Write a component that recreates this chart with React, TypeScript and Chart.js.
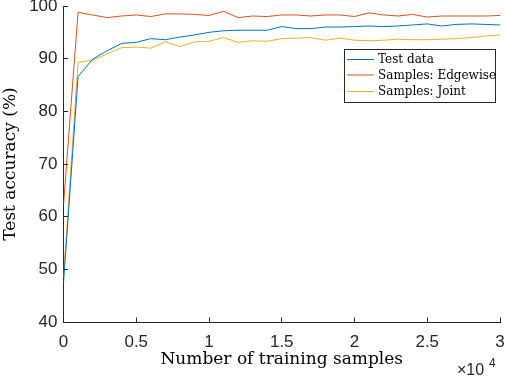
import React, { useEffect, useRef } from "react";
import { Chart, registerables } from "chart.js";

Chart.register(...registerables);

const samples = [
  0, 1000, 2000, 3000, 4000, 5000, 6000, 7000, 8000, 9000, 10000, 11000, 12000, 13000, 14000, 15000,
  16000, 17000, 18000, 19000, 20000, 21000, 22000, 23000, 24000, 25000, 26000, 27000, 28000, 29000, 30000,
];
const testData = [
  47.4, 86.6, 89.9, 91.5, 92.9, 93.1, 93.8, 93.6, 94.1, 94.5, 95.0, 95.3, 95.4, 95.4, 95.4, 96.1,
  95.7, 95.7, 96.0, 96.0, 96.1, 96.2, 96.1, 96.2, 96.4, 96.6, 96.2, 96.5, 96.6, 96.5, 96.4,
];
const edgewise = [
  62.2, 98.8, 98.3, 97.8, 98.1, 98.3, 98.0, 98.5, 98.5, 98.4, 98.2, 99.0, 97.8, 98.1, 98.0, 98.3,
  98.3, 98.1, 98.3, 98.3, 98.0, 98.7, 98.3, 98.1, 98.4, 97.9, 98.1, 98.1, 98.1, 98.1, 98.2,
];
const joint = [
  48.5, 89.3, 89.7, 90.9, 92.1, 92.2, 92.0, 93.2, 92.3, 93.2, 93.3, 94.0, 93.1, 93.4, 93.3, 93.8,
  93.9, 94.0, 93.5, 93.9, 93.5, 93.4, 93.5, 93.7, 93.6, 93.6, 93.7, 93.8, 94.0, 94.3, 94.5,
];
const seriesLabels = ["Test data", "Samples: Edgewise", "Samples: Joint"];
const seriesColors = ["#0072BD", "#D95319", "#EDB120"];
const xTicks = [0, 5000, 10000, 15000, 20000, 25000, 30000];
const xTickLabels = ["0", "0.5", "1", "1.5", "2", "2.5", "3"];
const yTicks = [40, 50, 60, 70, 80, 90, 100];

const AXIS = "#262626";
const SERIF = "'DejaVu Serif', 'Liberation Serif', serif";
const SANS = "'Liberation Sans', Arial, sans-serif";

const decorPlugin = {
  id: "decor",
  afterDraw(chart: any) {
    const ctx = chart.ctx;
    const xs = chart.scales.x;
    const ys = chart.scales.y;
    const area = chart.chartArea;
    ctx.save();
    // inward ticks
    ctx.strokeStyle = AXIS;
    ctx.lineWidth = 1;
    ctx.beginPath();
    yTicks.forEach((v) => {
      const y = Math.round(ys.getPixelForValue(v) - 0.5) + 0.5;
      ctx.moveTo(area.left, y);
      ctx.lineTo(area.left + 4.5, y);
    });
    xTicks.forEach((v) => {
      const x = Math.round(xs.getPixelForValue(v) - 0.5) + 0.5;
      ctx.moveTo(x, area.bottom);
      ctx.lineTo(x, area.bottom - 4.5);
    });
    ctx.stroke();

    // exponent label
    ctx.fillStyle = AXIS;
    ctx.textBaseline = "alphabetic";
    ctx.textAlign = "left";
    ctx.font = `16px ${SANS}`;
    ctx.fillText("\u00d710", 457, 375);
    ctx.font = `12px ${SANS}`;
    ctx.fillText("4", 489, 367);

    // legend
    const lx = 344.5, ly = 49.5, lw = 151, lh = 53;
    ctx.fillStyle = "#ffffff";
    ctx.fillRect(lx, ly, lw, lh);
    ctx.strokeStyle = AXIS;
    ctx.lineWidth = 1;
    ctx.strokeRect(lx, ly, lw, lh);
    const rows = [59.5, 75, 91.5];
    chart.data.datasets.forEach((ds: any, i: number) => {
      ctx.strokeStyle = ds.borderColor;
      ctx.lineWidth = 1;
      ctx.beginPath();
      ctx.moveTo(347, rows[i]);
      ctx.lineTo(374, rows[i]);
      ctx.stroke();
      ctx.fillStyle = "#000";
      ctx.font = `12px ${SERIF}`;
      ctx.textBaseline = "middle";
      ctx.fillText(ds.label, 378, rows[i] + 0.5);
    });
    ctx.restore();
  },
};

export default function App() {
  const canvasRef = useRef<HTMLCanvasElement | null>(null);

  useEffect(() => {
    if (!canvasRef.current) return;
    const chart = new Chart(canvasRef.current, {
      type: "line",
      data: {
        labels: samples,
        datasets: [testData, edgewise, joint].map((arr, i) => ({
          label: seriesLabels[i],
          data: arr.map((v, j) => ({ x: samples[j], y: v })),
          borderColor: seriesColors[i],
          backgroundColor: seriesColors[i],
          borderWidth: 1,
          pointRadius: 0,
          tension: 0,
          fill: false,
        })),
      },
      options: {
        responsive: false,
        animation: false,
        layout: { padding: { left: 0, right: 6, top: 6, bottom: 0 } },
        plugins: { legend: { display: false }, tooltip: { enabled: false } },
        scales: {
          x: {
            type: "linear",
            min: 0,
            max: 30000,
            afterBuildTicks: (s: any) => {
              s.ticks = xTicks.map((v) => ({ value: v }));
            },
            afterFit: (s: any) => {
              s.height = 54;
              s.paddingLeft = 0;
              s.paddingRight = 0;
            },
            grid: { display: true, drawOnChartArea: false, drawTicks: false },
            border: { display: true, color: AXIS, width: 1 },
            ticks: {
              padding: 10,
              color: AXIS,
              maxRotation: 0,
              autoSkip: false,
              font: { family: SANS, size: 17 },
              callback: (v: any) => {
                const idx = xTicks.indexOf(Number(v));
                return idx >= 0 ? xTickLabels[idx] : "";
              },
            },
            title: {
              display: true,
              text: "Number of training samples",
              color: "#000",
              font: { family: SERIF, size: 17 },
              padding: { top: 0, bottom: 6 },
            },
          },
          y: {
            type: "linear",
            min: 40,
            max: 100,
            afterBuildTicks: (s: any) => {
              s.ticks = yTicks.map((v) => ({ value: v }));
            },
            afterFit: (s: any) => {
              s.width = 63.5;
              s.paddingTop = 0;
              s.paddingBottom = 0;
            },
            grid: { display: true, drawOnChartArea: false, drawTicks: false },
            border: { display: true, color: AXIS, width: 1 },
            ticks: {
              padding: 6,
              color: AXIS,
              font: { family: SANS, size: 17 },
              callback: (v: any) => String(v),
            },
            title: {
              display: true,
              text: "Test accuracy (%)",
              color: "#000",
              font: { family: SERIF, size: 17 },
              padding: { top: 0, bottom: 0 },
            },
          },
        },
      },
      plugins: [decorPlugin],
    } as any);
    return () => chart.destroy();
  }, []);

  return (
    <div style={{ position: "absolute", left: 0, top: 0, width: 506, height: 376, background: "#fff" }}>
      <canvas ref={canvasRef} width={506} height={376} style={{ display: "block" }} />
    </div>
  );
}
